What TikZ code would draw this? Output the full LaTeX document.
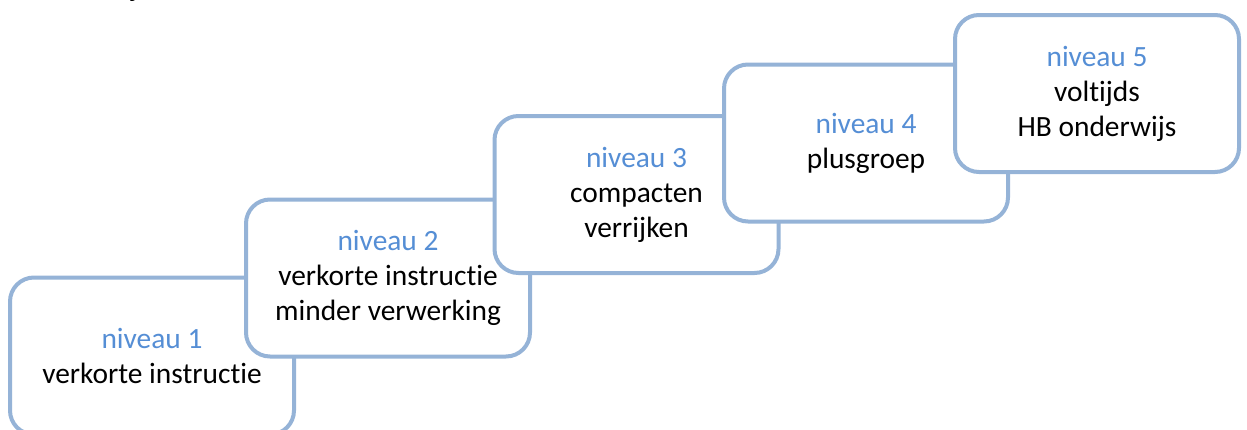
\documentclass[tikz,border=0pt]{standalone}
\usepackage{fontspec}
\setmainfont{Carlito}[Ligatures=NoCommon]
\definecolor{stepline}{RGB}{149,179,215}
\definecolor{stepblue}{RGB}{85,142,213}
\begin{document}
\begin{tikzpicture}[x=1pt,y=-1pt,
		stepbox/.style={draw=stepline, line width=4pt, fill=white, rounded corners=24pt,
			minimum width=284pt, minimum height=157pt, align=center,
			font=\fontsize{29.4}{35}\selectfont, inner sep=0pt},
		lvl/.style={text=stepblue}]
		
		\useasboundingbox (0,0) rectangle (1247,429);
		
		% tail of a line above the picture
		\node[anchor=base west, inner sep=0pt, font=\fontsize{29.4}{35}\selectfont] (tail) at (131,-4) {j};
		
		% the five steps, each one on top of the one before
		\node[stepbox] (n1) at (152,356) {{\color{stepblue}niveau 1}\\verkorte instructie};
		\node[stepbox] (n2) at (388,278) {{\color{stepblue}niveau 2}\\verkorte instructie\\minder verwerking};
		\node[stepbox] (n3) at (636.5,194.5) {{\color{stepblue}niveau 3}\\compacten\\verrijken};
		\node[stepbox] (n4) at (866,143) {{\color{stepblue}niveau 4}\\plusgroep};
		\node[stepbox] (n5) at (1097,93.5) {{\color{stepblue}niveau 5}\\voltijds\\HB onderwijs};
		
	\end{tikzpicture}
\end{document}
